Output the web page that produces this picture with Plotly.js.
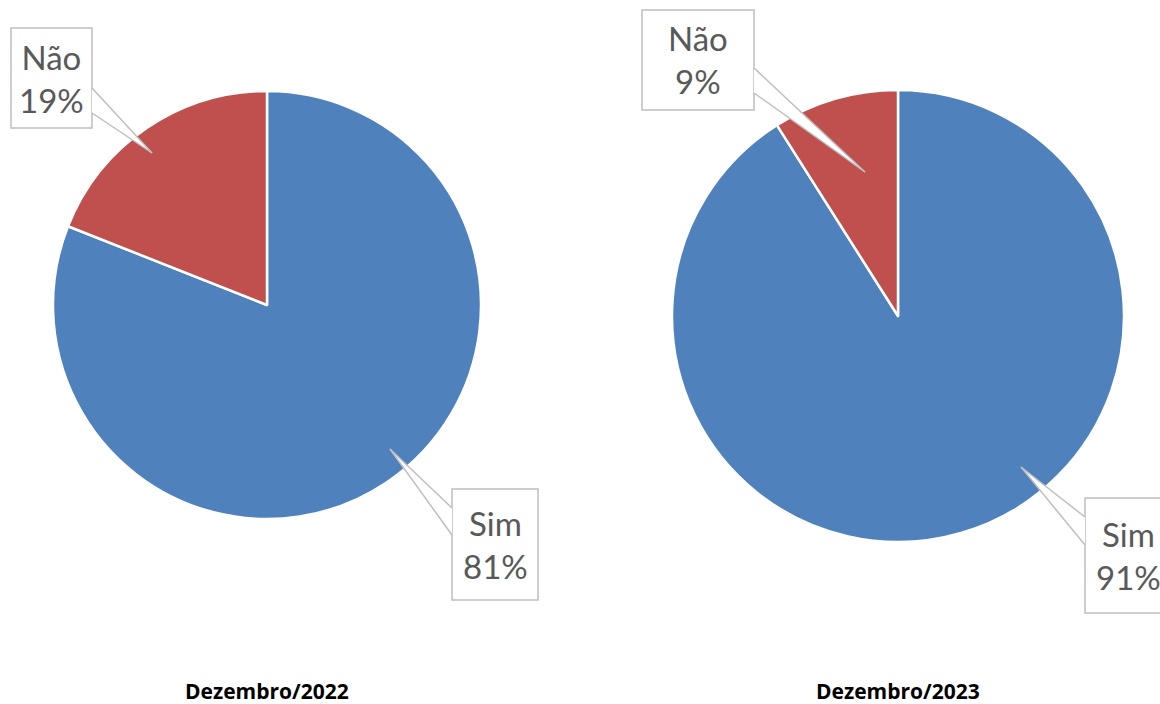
<!DOCTYPE html>
<html>
<head>
<meta charset="utf-8">
<script src="https://cdn.plot.ly/plotly-3.0.1.min.js"></script>
<style>
  html, body { margin: 0; padding: 0; background: #fff; }
  #chart { width: 1160px; height: 704px; }
</style>
</head>
<body>
<div id="chart"></div>
<script>
const W = 1160, H = 704;

const categories = ['Sim', 'Não'];
const dez2022 = [81, 19];
const dez2023 = [91, 9];
const periods = ['Dezembro/2022', 'Dezembro/2023'];
const sliceColors = ['#4F81BD', '#C0504D'];

// pie positions in pixels: center x, center y, radius
const pies = [
    { cx: 267, cy: 305, r: 214 },
    { cx: 898, cy: 316, r: 226 }
];

// callout boxes (pixels): box edges, wedge base on box edge, tip inside slice
const callouts = [
    [
        { box: [452, 489, 538, 600], base: [[452, 508], [452, 535]], tip: [390, 449] },
        { box: [11, 28, 92, 128], base: [[92, 88], [92, 113]], tip: [152, 153] }
    ],
    [
        { box: [1085, 498, 1171, 613], base: [[1085, 517], [1085, 545]], tip: [1021, 467] },
        { box: [642, 10, 754, 110], base: [[754, 68], [754, 93]], tip: [865, 172] }
    ]
];

const px = x => x / W;
const py = y => 1 - y / H;

function pieTrace(values, p) {
    return {
        type: 'pie',
        labels: categories,
        values: values,
        sort: false,
        direction: 'clockwise',
        rotation: 0,
        textinfo: 'none',
        hoverinfo: 'label+percent',
        showlegend: false,
        marker: { colors: sliceColors, line: { color: '#FFFFFF', width: 2.5 } },
        domain: {
            x: [px(p.cx - p.r), px(p.cx + p.r)],
            y: [py(p.cy + p.r), py(p.cy - p.r)]
        }
    };
}

const series = [dez2022, dez2023];
const data = series.map((v, i) => pieTrace(v, pies[i]));

const shapes = [];
const annotations = [];
const LINE = '#BFBFBF';

series.forEach((values, i) => {
    const total = values.reduce((a, b) => a + b, 0);
    values.forEach((v, j) => {
        const c = callouts[i][j];
        const b = c.box;
        shapes.push({
            type: 'rect', xref: 'paper', yref: 'paper',
            x0: px(b[0]), x1: px(b[2]), y0: py(b[3]), y1: py(b[1]),
            fillcolor: '#FFFFFF', line: { color: LINE, width: 1.5 }
        });
        const p1 = c.base[0], p2 = c.base[1], t = c.tip;
        shapes.push({
            type: 'path', xref: 'paper', yref: 'paper',
            path: 'M' + px(p1[0]) + ',' + py(p1[1]) + ' L' + px(t[0]) + ',' + py(t[1]) +
                  ' L' + px(p2[0]) + ',' + py(p2[1]) + ' Z',
            fillcolor: '#FFFFFF', line: { width: 0 }
        });
        [p1, p2].forEach(q => {
            shapes.push({
                type: 'line', xref: 'paper', yref: 'paper',
                x0: px(q[0]), y0: py(q[1]), x1: px(t[0]), y1: py(t[1]),
                line: { color: LINE, width: 1.5 }
            });
        });
        annotations.push({
            xref: 'paper', yref: 'paper',
            x: px((b[0] + b[2]) / 2), y: py((b[1] + b[3]) / 2),
            xanchor: 'center', yanchor: 'middle',
            text: categories[j] + '<br>' + Math.round(v / total * 100) + '%',
            showarrow: false,
            font: { family: 'Lato, "Open Sans", sans-serif', size: 33, color: '#595959' }
        });
    });
    annotations.push({
        xref: 'paper', yref: 'paper',
        x: px(pies[i].cx), y: py(691),
        xanchor: 'center', yanchor: 'middle',
        text: '<b>' + periods[i] + '</b>',
        showarrow: false,
        font: { family: '"Open Sans", sans-serif', size: 21, color: '#000000' }
    });
});

const layout = {
    width: W,
    height: H,
    margin: { l: 0, r: 0, t: 0, b: 0 },
    paper_bgcolor: '#FFFFFF',
    shapes: shapes,
    annotations: annotations
};

Plotly.newPlot('chart', data, layout, { displayModeBar: false, responsive: false });
</script>
</body>
</html>
